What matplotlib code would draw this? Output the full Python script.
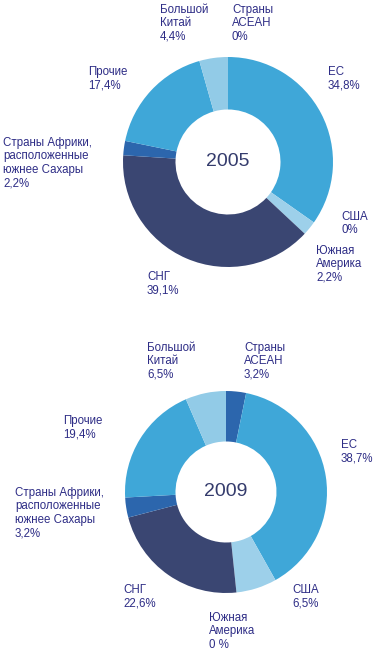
import matplotlib.pyplot as plt

plt.rcParams['font.family'] = ['Liberation Sans', 'DejaVu Sans']

# regions, clockwise from 12 o'clock
regions = ['Страны\nАСЕАН', 'ЕС', 'США', 'Южная\nАмерика', 'СНГ',
           'Страны Африки,\nрасположенные\nюжнее Сахары', 'Прочие', 'Большой\nКитай']
share_2005 = [0.0, 34.8, 0.0, 2.2, 39.1, 2.2, 17.4, 4.4]
share_2009 = [3.2, 38.7, 6.5, 0.0, 22.6, 3.2, 19.4, 6.5]
colors = ['#2c66ad', '#3fa7d8', '#9dd0ea', '#9dd0ea', '#3a4672',
          '#2c66ad', '#3fa7d8', '#92cbe7']

text_color = '#2e2d86'
W, H = 380, 650

fig = plt.figure(figsize=(W / 100, H / 100), dpi=100)


def pct(v, zero):
    if v == 0:
        return zero
    return f'{v:.1f}%'.replace('.', ',')


def donut(values, year, cx, cy, r, label_pos, zero):
    ax = fig.add_axes([(cx - r) / W, (H - cy - r) / H, 2 * r / W, 2 * r / H])
    ax.pie(values, colors=colors, startangle=90, counterclock=False,
           radius=1, wedgeprops=dict(width=0.5, linewidth=0))
    ax.set_xlim(-1, 1)
    ax.set_ylim(-1, 1)
    ax.set_aspect('equal')
    ax.axis('off')
    ax.text(0, 0, year, ha='center', va='center', fontsize=14, color='#343b6c')
    for name, v, (x, y) in zip(regions, values, label_pos):
        fig.text(x / W, 1 - y / H, name + '\n' + pct(v, zero), ha='left', va='top',
                 fontsize=8.3, color=text_color, linespacing=1.15)


pos_2005 = [(232, 4), (328, 66), (341, 211), (316, 245), (147, 271),
            (3, 137), (88, 66), (160, 4)]
pos_2009 = [(244, 342), (341, 439), (292, 584), (209, 612), (123, 584),
            (15, 487), (63, 415), (147, 342)]

donut(share_2005, '2005', 228, 162, 105, pos_2005, '0%')
donut(share_2009, '2009', 226, 492, 101, pos_2009, '0 %')

fig.savefig('out.png', dpi=100, facecolor='white')
